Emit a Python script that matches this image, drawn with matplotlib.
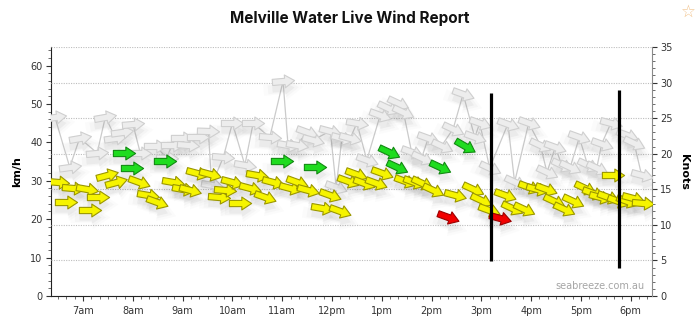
import matplotlib
matplotlib.use("Agg")
import matplotlib.pyplot as plt
from matplotlib.path import Path
from matplotlib.markers import MarkerStyle
from matplotlib.ticker import MultipleLocator
from matplotlib.transforms import ScaledTranslation

KMH_PER_KNOT = 1.852

# average wind: time, speed (knots), direction it blows from (deg), colour
avg_times = ["6:30", "6:39", "6:48", "7:05", "7:08", "7:18", "7:29", "7:40", "7:49", "7:59",
             "8:07", "8:18", "8:29", "8:39", "8:48", "9:00", "9:09", "9:17", "9:33", "9:44",
             "9:51", "10:00", "10:09", "10:21", "10:30", "10:39", "10:49", "11:00", "11:09", "11:18",
             "11:31", "11:40", "11:48", "11:58", "12:10", "12:19", "12:29", "12:39", "12:53", "13:00",
             "13:09", "13:18", "13:28", "13:39", "13:48", "14:02", "14:10", "14:20", "14:28", "14:40",
             "14:50", "15:00", "15:09", "15:22", "15:28", "15:37", "15:51", "15:57", "16:07", "16:18",
             "16:27", "16:40", "16:50", "17:05", "17:14", "17:23", "17:33", "17:39", "17:45", "17:55",
             "18:03", "18:15"]
avg_knots = [16.0, 13.2, 15.2, 15.0, 12.1, 13.9, 17.0, 16.0, 20.1, 18.0,
             16.0, 14.2, 13.2, 19.0, 16.0, 15.0, 14.9, 17.3, 17.1, 13.9,
             14.9, 16.0, 13.1, 15.2, 17.0, 13.9, 16.0, 19.0, 15.2, 16.0,
             14.9, 18.1, 12.4, 14.2, 11.9, 16.2, 17.1, 15.9, 15.9, 17.3,
             20.2, 18.1, 16.2, 16.0, 15.9, 14.9, 18.1, 11.1, 14.2, 21.1,
             15.0, 13.5, 12.1, 11.0, 14.2, 12.4, 12.2, 15.3, 15.0, 15.0,
             13.4, 12.2, 13.4, 15.2, 14.5, 13.9, 13.9, 17.0, 13.4, 13.4,
             13.8, 13.1]
avg_dirs = [275, 270, 275, 280, 270, 270, 255, 255, 270, 270,
            290, 280, 290, 270, 280, 280, 285, 285, 285, 275,
            275, 285, 270, 285, 280, 290, 285, 270, 285, 290,
            285, 270, 280, 290, 290, 290, 290, 290, 290, 290,
            295, 295, 290, 290, 295, 295, 295, 290, 285, 300,
            295, 295, 290, 285, 290, 295, 295, 290, 285, 290,
            295, 295, 295, 295, 290, 285, 290, 270, 290, 290,
            285, 275]
avg_cols = list("yyyyyyyygg"
                "yyygyyyyyy"
                "yyyyyyygyy"
                "ygyyyyyyyy"
                "ggyyyygryg"
                "yyyryyyyyy"
                "yyyyyyyyyy"
                "yy")

# gusts
gust_times = ["6:26", "6:44", "6:56", "7:17", "7:27", "7:39", "7:47", "8:00", "8:09", "8:27",
              "8:41", "8:47", "8:59", "9:07", "9:19", "9:31", "9:35", "9:49", "10:00", "10:15",
              "10:25", "10:45", "11:01", "11:07", "11:18", "11:30", "11:37", "11:58", "12:05", "12:12",
              "12:22", "12:30", "12:42", "12:58", "13:07", "13:20", "13:26", "13:36", "13:48", "13:56",
              "14:12", "14:26", "14:38", "14:52", "14:58", "15:10", "15:32", "15:40", "15:57", "16:11",
              "16:19", "16:29", "16:37", "16:47", "16:58", "17:08", "17:19", "17:25", "17:36", "17:55",
              "18:04", "18:13"]
gust_knots = [25.2, 18.1, 22.2, 20.1, 25.2, 22.2, 23.1, 24.2, 20.1, 21.1,
              19.4, 21.2, 22.2, 21.2, 22.3, 23.2, 15.6, 19.5, 24.3, 18.4,
              24.3, 22.3, 30.2, 21.2, 21.2, 23.1, 21.9, 23.2, 15.3, 22.2,
              22.2, 24.3, 19.1, 25.4, 26.4, 27.1, 25.9, 20.2, 19.4, 22.2,
              21.1, 23.5, 28.4, 22.3, 24.3, 18.0, 24.2, 16.0, 24.3, 21.2,
              17.4, 20.9, 18.4, 18.1, 22.3, 18.4, 18.0, 21.4, 24.3, 22.6,
              21.5, 17.0]
gust_dirs = [262, 262, 260, 265, 260, 262, 262, 265, 270, 270,
             272, 270, 270, 275, 270, 272, 280, 275, 270, 280,
             270, 275, 265, 280, 280, 290, 285, 285, 290, 285,
             285, 280, 290, 290, 295, 295, 295, 290, 295, 290,
             295, 295, 290, 290, 290, 295, 290, 295, 290, 295,
             295, 290, 295, 295, 290, 295, 295, 290, 285, 290,
             295, 285]

hour_ticks = list(range(7, 19))
hour_labels = ["7am", "8am", "9am", "10am", "11am", "12pm",
               "1pm", "2pm", "3pm", "4pm", "5pm", "6pm"]

bar_times = ["15:12", "17:46"]
bar_top = [28.5, 29.0]
bar_bottom = [4.9, 3.9]

FILL = {"y": "#f6f400", "g": "#1fdc1f", "r": "#f20000"}
EDGE = {"y": "#9a9600", "g": "#128a12", "r": "#9a0000"}


def hours(t):
    h, m = t.split(":")
    return int(h) + int(m) / 60


ARROW = Path([(-0.5, -0.14), (0.06, -0.14), (0.06, -0.29), (0.5, 0.0),
              (0.06, 0.29), (0.06, 0.14), (-0.5, 0.14), (-0.5, -0.14)], closed=True)


def arrow(dir_from):
    return MarkerStyle(ARROW).rotated(deg=270 - dir_from)


fig = plt.figure(figsize=(7, 3.23), dpi=100)
ax = fig.add_axes([51 / 700, 1 - 296 / 323, 601 / 700, 249 / 323])
ax2 = ax.twinx()

ax.set_xlim(6.357, 18.426)
ax.set_ylim(0, 35 * KMH_PER_KNOT)
ax2.set_ylim(0, 35)

size = 16 ** 2
shadow = ax2.transData + ScaledTranslation(0, -5 / 72, fig.dpi_scale_trans)


def draw_arrows(times, knots, dirs, fills, edges, z):
    for t, k, d, fc, ec in zip(times, knots, dirs, fills, edges):
        m = arrow(d)
        x = hours(t)
        for grow, a in ((1.0, 0.07), (1.4, 0.04), (1.8, 0.025)):
            ax2.scatter([x], [k], marker=m, s=size * grow ** 2, color="#6f6f6f",
                        alpha=a, linewidths=0, transform=shadow, zorder=z)
        ax2.scatter([x], [k], marker=m, s=size, facecolor=fc, edgecolor=ec,
                    linewidths=0.8, zorder=z + 1)


ax2.plot([hours(t) for t in gust_times], gust_knots, color="#cbcbcb", lw=0.9, zorder=1)
draw_arrows(gust_times, gust_knots, gust_dirs,
            ["#ededed"] * len(gust_times), ["#cfcfcf"] * len(gust_times), 2)
draw_arrows(avg_times, avg_knots, avg_dirs,
            [FILL[c] for c in avg_cols], [EDGE[c] for c in avg_cols], 4)

for t, top, bot in zip(bar_times, bar_top, bar_bottom):
    ax2.plot([hours(t), hours(t)], [bot, top], color="black", lw=2.3,
             solid_capstyle="butt", zorder=7)

# grid follows the knots axis
ax2.set_yticks(range(0, 36, 5))
ax2.yaxis.set_minor_locator(MultipleLocator(1))
ax2.yaxis.grid(True, color="#bdbdbd", lw=0.8, linestyle=(0, (1, 1.2)))
ax2.set_axisbelow(True)

ax.set_yticks(range(0, 61, 10))
ax.yaxis.set_minor_locator(MultipleLocator(2))
ax.set_xticks(hour_ticks)
ax.set_xticklabels(hour_labels)
ax.xaxis.set_minor_locator(MultipleLocator(1 / 6))

for a in (ax, ax2):
    a.tick_params(which="major", length=3.5, width=0.8, pad=2.5,
                  labelsize=7, labelcolor="#333333", color="#333333")
    a.tick_params(which="minor", length=2, width=0.6, color="#555555")
ax.tick_params(axis="x", pad=4)

for s in ("top", "right"):
    ax.spines[s].set_visible(False)
for s in ("top", "left", "bottom"):
    ax2.spines[s].set_visible(False)
ax.spines["left"].set_color("#222222")
ax.spines["bottom"].set_color("#222222")
ax2.spines["right"].set_color("#8a8a8a")

ax.set_ylabel("km/h", fontsize=8, fontweight="bold", labelpad=6)
ax2.set_ylabel("Knots", fontsize=8, fontweight="bold", rotation=270, labelpad=12)

fig.text(0.5, 0.944, "Melville Water Live Wind Report", ha="center", va="center",
         fontsize=11, fontweight="bold", family="Inter", color="#111111")
fig.text(0.983, 0.963, "\u2606", ha="center", va="center", fontsize=12, color="#f2c38c")
ax2.text(0.988, 0.04, "seabreeze.com.au", transform=ax2.transAxes, ha="right", va="center",
         fontsize=7, color="#a5a5a5", zorder=8)

fig.savefig("out.png", dpi=100)
